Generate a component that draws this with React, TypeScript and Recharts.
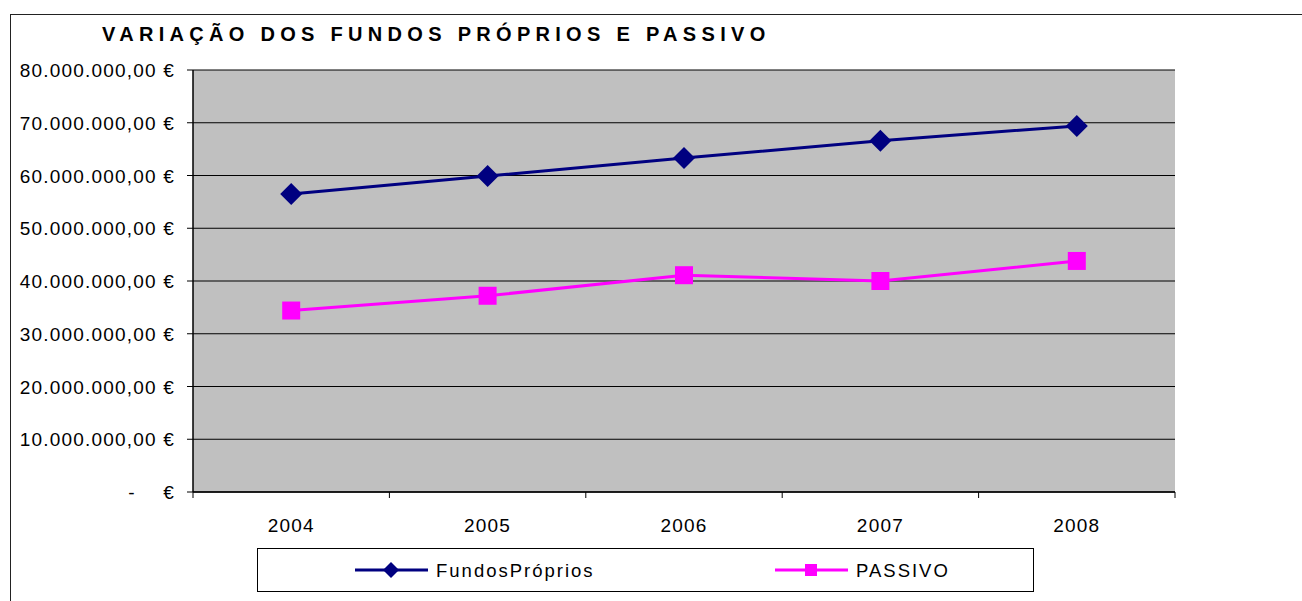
import { LineChart, Line, XAxis, YAxis, CartesianGrid, Legend } from 'recharts';

const years = ['2004', '2005', '2006', '2007', '2008'];
const fundosProprios = [56500000, 59900000, 63300000, 66600000, 69400000];
const passivo = [34400000, 37200000, 41100000, 40000000, 43800000];
const yTicks = [0, 10000000, 20000000, 30000000, 40000000, 50000000, 60000000, 70000000, 80000000];
// boundaries on whole numbers, year labels on the halves
const xTicks = [0, 0.5, 1, 1.5, 2, 2.5, 3, 3.5, 4, 4.5, 5];

const data = years.map((year, i) => ({
  slot: i + 0.5,
  year,
  fundos: fundosProprios[i],
  passivo: passivo[i],
}));

const FONT = '"Liberation Sans", Arial, sans-serif';

const euro = (v: number) => {
  const int = Math.round(v).toString().replace(/\B(?=(\d{3})+(?!\d))/g, '.');
  return `${int},00 €`;
};

const tickStyle = { fontFamily: FONT, fontSize: 19, letterSpacing: 1.2 };

const YTick = ({ x, y, payload }: any) => {
  if (payload.value === 0) {
    return (
      <g>
        <text x={x - 43} y={y} dy={7} textAnchor="middle" fill="#000" style={tickStyle}>-</text>
        <text x={x} y={y} dy={7} textAnchor="end" fill="#000" style={tickStyle}>€</text>
      </g>
    );
  }
  return (
    <text x={x} y={y} dy={7} textAnchor="end" fill="#000" style={tickStyle}>
      {euro(payload.value)}
    </text>
  );
};

const XTick = ({ x, y, payload }: any) => {
  const v = payload.value;
  if (Number.isInteger(v)) {
    return <line x1={x} x2={x} y1={y} y2={y + 6} stroke="#000" strokeWidth={1} />;
  }
  return (
    <text x={x} y={y + 40} textAnchor="middle" fill="#000" style={tickStyle}>
      {years[Math.floor(v)]}
    </text>
  );
};

const Diamond = ({ cx, cy, r, fill }: any) => (
  <path d={`M${cx},${cy - r}L${cx + r},${cy}L${cx},${cy + r}L${cx - r},${cy}Z`} fill={fill} />
);

const Square = ({ cx, cy, r, fill }: any) => (
  <rect x={cx - r} y={cy - r} width={r * 2} height={r * 2} fill={fill} />
);

const legendSlots = [98, 518];

const LegendBox = ({ payload }: any) => (
  <svg width={777} height={44} style={{ display: 'block' }}>
    <rect x={0.5} y={0.5} width={776} height={43} fill="#fff" stroke="#000" />
    {(payload || []).map((item: any, i: number) => {
      const x0 = legendSlots[i];
      const isFirst = item.dataKey === 'fundos';
      return (
        <g key={item.value}>
          <line x1={x0} x2={x0 + 73} y1={22} y2={22} stroke={item.color} strokeWidth={3} />
          {isFirst ? (
            <Diamond cx={x0 + 36} cy={22} r={8} fill={item.color} />
          ) : (
            <Square cx={x0 + 36} cy={22} r={6} fill={item.color} />
          )}
          <text x={x0 + 81} y={29} fill="#000"
            style={{ fontFamily: FONT, fontSize: 18.5, letterSpacing: 2 }}>
            {item.value}
          </text>
        </g>
      );
    })}
  </svg>
);

export default function App() {
  return (
    <div style={{ position: 'absolute', left: 0, top: 0, width: 1302, height: 601, overflow: 'hidden', background: '#fff' }}>
      <div style={{ position: 'absolute', left: 10, top: 14, width: 1400, height: 700, border: '1px solid #222' }} />
      <div style={{
        position: 'absolute', left: 102, top: 23, fontFamily: FONT, fontWeight: 'bold',
        fontSize: 20, lineHeight: '23px', letterSpacing: 5.3, color: '#000', whiteSpace: 'nowrap',
      }}>
        VARIAÇÃO DOS FUNDOS PRÓPRIOS E PASSIVO
      </div>
      <div style={{ position: 'absolute', left: 0, top: 0 }}>
        <LineChart width={1302} height={601} data={data}
          margin={{ top: 70, right: 127, left: 0, bottom: 79 }}>
          <CartesianGrid vertical={false} stroke="#000" fill="#C0C0C0" fillOpacity={1} />
          <XAxis dataKey="slot" type="number" domain={[0, 5]} ticks={xTicks} interval={0}
            tickLine={false} tickSize={0} tickMargin={0} height={30}
            axisLine={{ stroke: '#000', strokeWidth: 1.5 }} tick={<XTick />} />
          <YAxis domain={[0, 80000000]} ticks={yTicks} interval={0} width={193}
            tickSize={6} tickMargin={12} axisLine={{ stroke: '#000', strokeWidth: 1.5 }}
            tickLine={{ stroke: '#000' }} tick={<YTick />} />
          <YAxis yAxisId="frame" orientation="right" domain={[0, 1]} width={0}
            tick={false} tickLine={false} axisLine={{ stroke: '#888', strokeWidth: 3 }} />
          <Line dataKey="fundos" name="FundosPróprios" stroke="#000080" strokeWidth={3}
            isAnimationActive={false}
            dot={(p: any) => <Diamond key={`d${p.index}`} cx={p.cx} cy={p.cy} r={11} fill="#000080" />} />
          <Line dataKey="passivo" name="PASSIVO" stroke="#FF00FF" strokeWidth={3}
            isAnimationActive={false}
            dot={(p: any) => <Square key={`s${p.index}`} cx={p.cx} cy={p.cy} r={9} fill="#FF00FF" />} />
          <Legend verticalAlign="middle" align="center" layout="horizontal"
            wrapperStyle={{ position: 'absolute', left: 257, top: 548, width: 777, height: 44 }}
            content={<LegendBox />} />
        </LineChart>
      </div>
    </div>
  );
}
